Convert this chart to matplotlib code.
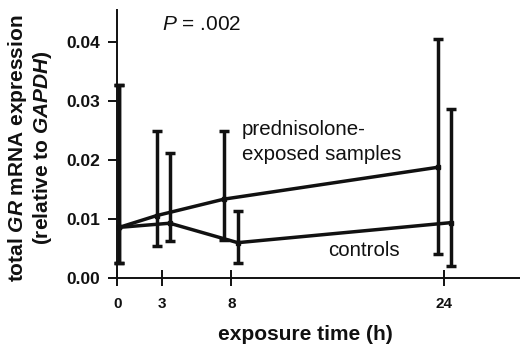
import numpy as np
import matplotlib
matplotlib.use('Agg')
import matplotlib.pyplot as plt

# exposure times (h)
hours = [0, 3, 8, 24]

# prednisolone-exposed samples: mean and error-bar range
pred_mean = [0.0086, 0.0106, 0.0134, 0.0188]
pred_low = [0.0025, 0.0055, 0.0065, 0.0040]
pred_high = [0.0328, 0.0249, 0.0250, 0.0405]

# controls
ctrl_mean = [0.0086, 0.0093, 0.0060, 0.0094]
ctrl_low = [0.0025, 0.0063, 0.0026, 0.0021]
ctrl_high = [0.0328, 0.0212, 0.0114, 0.0287]

yticks = [0.0, 0.01, 0.02, 0.03, 0.04]
ytick_labels = ['0.00', '0.01', '0.02', '0.03', '0.04']

# horizontal dodge of the two series, in pixels
pred_shift = [2, -5, -7, -6.5]
ctrl_shift = [2, 8, 6.5, 6.5]

plt.rcParams['font.family'] = 'Liberation Sans'
plt.rcParams['mathtext.fontset'] = 'custom'
plt.rcParams['mathtext.rm'] = 'Liberation Sans'
plt.rcParams['mathtext.it'] = 'Liberation Sans:italic'
plt.rcParams['mathtext.bf'] = 'Liberation Sans:bold'
plt.rcParams['mathtext.bfit'] = 'Liberation Sans:italic:bold'

ink = '#111111'

fig = plt.figure(figsize=(5.2, 3.5), dpi=100)
ax = fig.add_axes([0.2256, 0.2057, 0.7744, 0.7657])

p = 0.96
fwd = lambda x: np.sign(x) * np.abs(x) ** p
inv = lambda x: np.sign(x) * np.abs(x) ** (1 / p)
ax.set_xscale('function', functions=(fwd, inv))
ax.set_xlim(0, 29.8)
ax.set_ylim(0, 0.0455)


def shifted(xs, ys, shifts):
  pts = ax.transData.transform(np.column_stack([xs, ys]))
  pts[:, 0] += np.array(shifts)
  return ax.transData.inverted().transform(pts)[:, 0]


for mean, low, high, shift in [(pred_mean, pred_low, pred_high, pred_shift),
                               (ctrl_mean, ctrl_low, ctrl_high, ctrl_shift)]:
  mean = np.array(mean)
  yerr = [mean - np.array(low), np.array(high) - mean]
  xs = shifted(hours, mean, shift)
  ax.errorbar(xs, mean, yerr=yerr, color=ink, lw=2.5, elinewidth=2.5,
              capsize=3.4, capthick=2.5, marker='s', ms=3.5, clip_on=False, zorder=3)

for s in ['top', 'right']:
  ax.spines[s].set_visible(False)
for s in ['left', 'bottom']:
  ax.spines[s].set_linewidth(1.4)
  ax.spines[s].set_color(ink)

ax.set_yticks(yticks)
ax.set_yticklabels(ytick_labels, fontsize=12.5, fontweight='bold')
ax.set_xticks(hours)
ax.set_xticklabels([str(h) for h in hours], fontsize=11, fontweight='bold')
ax.minorticks_off()
ax.tick_params(axis='y', direction='out', length=6.5, width=1.4, pad=6, colors=ink)
ax.tick_params(axis='x', direction='inout', length=11, width=1.4, pad=8.5, colors=ink)

fig.text(0.033, 0.577, r'total $\mathbfit{GR}$ mRNA expression', rotation=90,
         ha='center', va='center', fontsize=15, fontweight='bold', color=ink)
fig.text(0.081, 0.577, r'(relative to $\mathbfit{GAPDH}$)', rotation=90,
         ha='center', va='center', fontsize=15, fontweight='bold', color=ink)
fig.text(0.587, 0.043, 'exposure time (h)', ha='center', va='center',
         fontsize=15, fontweight='bold', color=ink)

fig.text(0.3115, 0.9286, r'$P$ = .002', ha='left', va='center', fontsize=15, color=ink)
fig.text(0.465, 0.593, 'prednisolone-\nexposed samples', ha='left', va='center',
         fontsize=14.8, linespacing=1.4, color=ink)
fig.text(0.6308, 0.2857, 'controls', ha='left', va='center', fontsize=14.8, color=ink)

fig.savefig('out.png', dpi=100)
